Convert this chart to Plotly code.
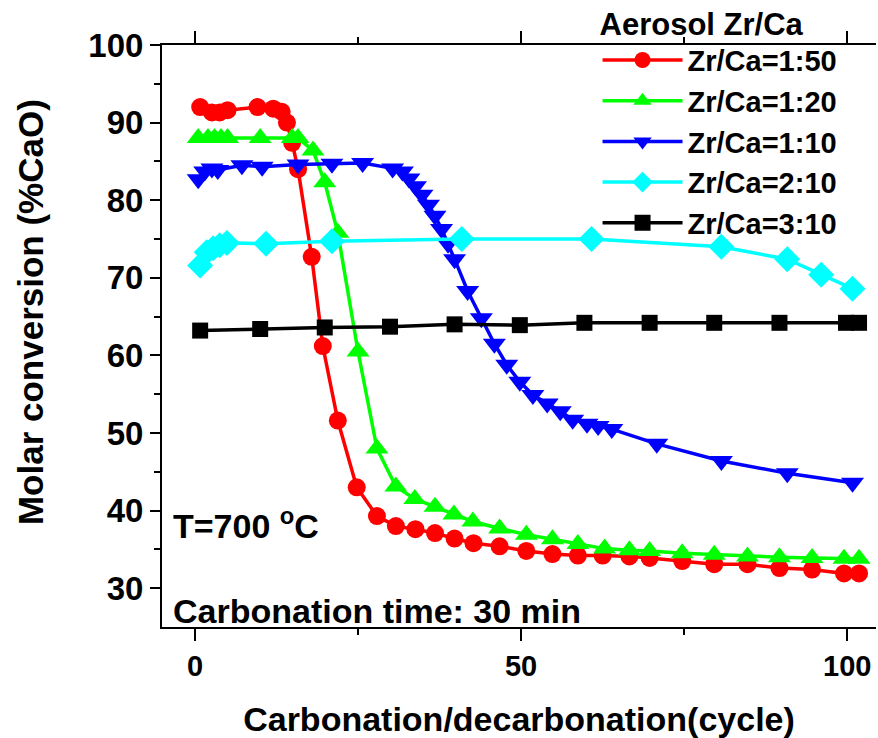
import plotly.graph_objects as go

# Zr/Ca = 1:50
x_150 = [0.8, 2.6, 3.8, 5.0, 9.6, 12.0, 13.3, 14.1, 14.9, 15.8, 17.9, 19.6, 21.9, 24.8,
         27.9, 30.8, 33.8, 36.8, 39.8, 42.7, 46.7, 50.8, 54.8, 58.7, 62.5, 66.6, 69.7,
         74.7, 79.6, 84.7, 89.6, 94.6, 99.5, 101.8]
y_150 = [92.0, 91.3, 91.3, 91.6, 92.0, 91.8, 91.4, 90.0, 87.4, 84.0, 72.7, 61.2, 51.6, 43.0,
         39.3, 38.0, 37.6, 37.1, 36.4, 35.8, 35.4, 34.8, 34.4, 34.2, 34.2, 34.1, 33.9,
         33.5, 33.1, 33.1, 32.6, 32.4, 31.9, 31.9]

# Zr/Ca = 1:20
x_120 = [0.5, 2.0, 3.0, 4.0, 5.0, 10.0, 14.9, 15.8, 18.1, 19.9, 21.9, 25.0, 27.9, 30.8,
         33.7, 36.8, 39.7, 42.6, 46.7, 50.8, 54.8, 58.7, 62.8, 66.6, 69.7, 74.7, 79.6,
         84.7, 89.6, 94.6, 99.5, 101.8]
y_120 = [88.0, 88.0, 88.0, 88.0, 88.0, 88.0, 88.0, 88.0, 86.4, 82.3, 75.8, 60.5, 48.0, 43.1,
         41.5, 40.5, 39.5, 38.6, 37.7, 36.9, 36.3, 35.7, 35.1, 34.9, 34.8, 34.5, 34.3,
         34.1, 34.0, 33.9, 33.8, 33.8]

# Zr/Ca = 1:10
x_110 = [0.5, 1.5, 2.6, 3.5, 7.2, 10.3, 15.8, 21.0, 25.7, 30.3, 31.8, 32.8, 33.8, 34.8,
         35.8, 36.8, 37.8, 38.8, 39.8, 41.8, 43.9, 45.9, 47.8, 49.8, 51.8, 54.0, 56.0,
         57.9, 60.1, 61.8, 63.9, 70.8, 80.7, 90.8, 100.8]
y_110 = [82.7, 83.7, 84.1, 83.9, 84.5, 84.3, 84.6, 84.7, 84.8, 84.1, 83.7, 82.8, 81.8, 80.7,
         79.4, 78.0, 76.3, 74.4, 72.4, 68.3, 64.8, 61.5, 58.8, 56.6, 54.9, 53.8, 52.8,
         51.7, 51.2, 50.9, 50.5, 48.6, 46.4, 44.8, 43.6]

# Zr/Ca = 2:10
x_210 = [0.8, 1.8, 2.8, 3.8, 4.9, 10.9, 21.0, 40.9, 60.8, 80.7, 90.8, 96.0, 100.8]
y_210 = [71.6, 73.3, 73.8, 74.2, 74.5, 74.4, 74.7, 75.0, 75.0, 74.0, 72.4, 70.4, 68.6]

# Zr/Ca = 3:10
x_310 = [0.8, 10.0, 19.9, 29.9, 39.8, 49.8, 59.7, 69.7, 79.6, 89.6, 99.8, 101.8]
y_310 = [63.2, 63.4, 63.6, 63.7, 64.0, 63.9, 64.2, 64.2, 64.2, 64.2, 64.2, 64.2]

series_names = ["Zr/Ca=1:50", "Zr/Ca=1:20", "Zr/Ca=1:10", "Zr/Ca=2:10", "Zr/Ca=3:10"]
series_x = [x_150, x_120, x_110, x_210, x_310]
series_y = [y_150, y_120, y_110, y_210, y_310]
colors = ["#FF0000", "#00FF00", "#0000FF", "#00FFFF", "#000000"]
symbols = ["circle", "triangle-up", "triangle-down", "diamond", "square"]
sizes = [18, 20, 20, 20, 16]

x_ticks = [0, 50, 100]
y_ticks = [30, 40, 50, 60, 70, 80, 90, 100]

FONT = "Liberation Sans, Arial, sans-serif"

fig = go.Figure()
for name, xs, ys, c, s, sz in zip(series_names, series_x, series_y, colors, symbols, sizes):
    fig.add_trace(go.Scatter(
        x=xs, y=ys, name=name, mode="lines+markers",
        line=dict(color=c, width=3.5),
        marker=dict(symbol=s, size=sz, color=c, line=dict(width=0)),
    ))

fig.update_layout(
    width=878, height=738,
    margin=dict(l=162, r=2, t=45, b=111, autoexpand=False),
    paper_bgcolor="white", plot_bgcolor="white",
    font=dict(family=FONT, color="black"),
    showlegend=True,
    legend=dict(
        x=0.61, y=1.087, xanchor="left", yanchor="top",
        bgcolor="rgba(0,0,0,0)",
        font=dict(family=FONT, size=29, weight=700, color="black"),
        title=dict(text="Aerosol Zr/Ca", side="top",
                   font=dict(family=FONT, size=31, weight=700, color="black")),
        itemwidth=80,
        tracegroupgap=0,
    ),
    xaxis=dict(
        range=[-5.05, 104.4],
        tickvals=x_ticks, ticktext=[str(v) for v in x_ticks],
        ticks="outside", ticklen=12, tickwidth=2, tickcolor="black",
        showline=True, linewidth=2, linecolor="black", mirror="ticks",
        showgrid=False, zeroline=False,
        minor=dict(tickvals=[25, 75], ticks="outside", ticklen=6, tickwidth=2, tickcolor="black"),
        tickfont=dict(family=FONT, size=29, weight=700),
        title=dict(text="Carbonation/decarbonation(cycle)",
                   font=dict(family=FONT, size=34, weight=700), standoff=28),
    ),
    yaxis=dict(
        range=[25, 100],
        tickvals=y_ticks, ticktext=[str(v) for v in y_ticks],
        ticks="outside", ticklen=10, tickwidth=2, tickcolor="black",
        showline=True, linewidth=2, linecolor="black",
        showgrid=False, zeroline=False,
        minor=dict(tickvals=[35, 45, 55, 65, 75, 85, 95], ticks="outside", ticklen=6,
                   tickwidth=2, tickcolor="black"),
        tickfont=dict(family=FONT, size=33, weight=700),
    ),
    annotations=[
        dict(text="Molar conversion (%CaO)", xref="paper", yref="paper",
             x=-0.185, y=0.541, xanchor="center", yanchor="middle", textangle=-90,
             showarrow=False, font=dict(family=FONT, size=35, weight=700)),
        dict(text="T=700 <sup>o</sup>C", xref="paper", yref="paper", x=0.012, y=0.178,
             xanchor="left", yanchor="middle", showarrow=False,
             font=dict(family=FONT, size=34, weight=700)),
        dict(text="Carbonation time: 30 min", xref="paper", yref="paper", x=0.012, y=-0.008,
             xanchor="left", yanchor="bottom", showarrow=False,
             font=dict(family=FONT, size=34, weight=700)),
    ],
)

fig.write_html("out.html")
